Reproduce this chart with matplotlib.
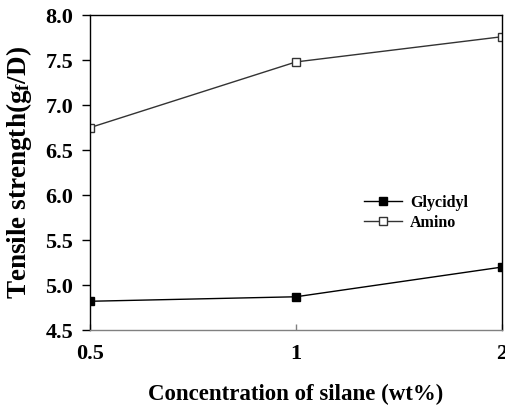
import matplotlib
matplotlib.use("Agg")
import matplotlib.pyplot as plt

categories = ["0.5", "1", "2"]
glycidyl = [4.82, 4.87, 5.20]
amino = [6.75, 7.48, 7.76]
yticks = [4.5, 5.0, 5.5, 6.0, 6.5, 7.0, 7.5, 8.0]

plt.rcParams['font.family'] = ['Liberation Serif', 'DejaVu Serif']
plt.rcParams['font.weight'] = 'bold'
plt.rcParams['mathtext.fontset'] = 'custom'
plt.rcParams['mathtext.rm'] = 'Liberation Serif:bold'
plt.rcParams['mathtext.bf'] = 'Liberation Serif:bold'
plt.rcParams['mathtext.it'] = 'Liberation Serif:bold'

fig = plt.figure(figsize=(5.06, 4.09), dpi=100)
ax = fig.add_axes([0.178, 0.193, 0.814, 0.770])
x = list(range(len(categories)))
ax.plot(x, glycidyl, color='black', lw=1, marker='s', ms=6, mfc='black', mec='black', label='Glycidyl')
ax.plot(x, amino, color='#333333', lw=1, marker='s', ms=6, mfc='white', mec='#333333', label='Amino')
ax.set_xlim(0, 2)
ax.set_ylim(4.5, 8.0)
ax.set_xticks(x)
ax.set_xticklabels(categories, fontsize=16, fontweight='bold')
ax.set_yticks(yticks)
ax.set_yticklabels([f"{v:.1f}" for v in yticks], fontsize=16, fontweight='bold')
ax.tick_params(axis='y', direction='out', length=6, width=1, pad=6)
ax.tick_params(axis='x', direction='in', length=4, width=1, color='gray', pad=10)
ax.spines['bottom'].set_color('gray')
for s in ax.spines.values():
    s.set_linewidth(1)
ax.set_xlabel("Concentration of silane (wt%)", fontsize=16.5, fontweight='bold', labelpad=14)
ax.set_ylabel(r"Tensile strength(g$_\mathrm{f}$/D)", fontsize=19.5, fontweight='bold', labelpad=8)
ax.legend(loc='upper left', bbox_to_anchor=(0.63, 0.475), frameon=False,
          prop={'weight': 'bold', 'size': 11.5}, handlelength=2.4, handletextpad=0.5, labelspacing=0.25)
fig.savefig("out.png", dpi=100)
